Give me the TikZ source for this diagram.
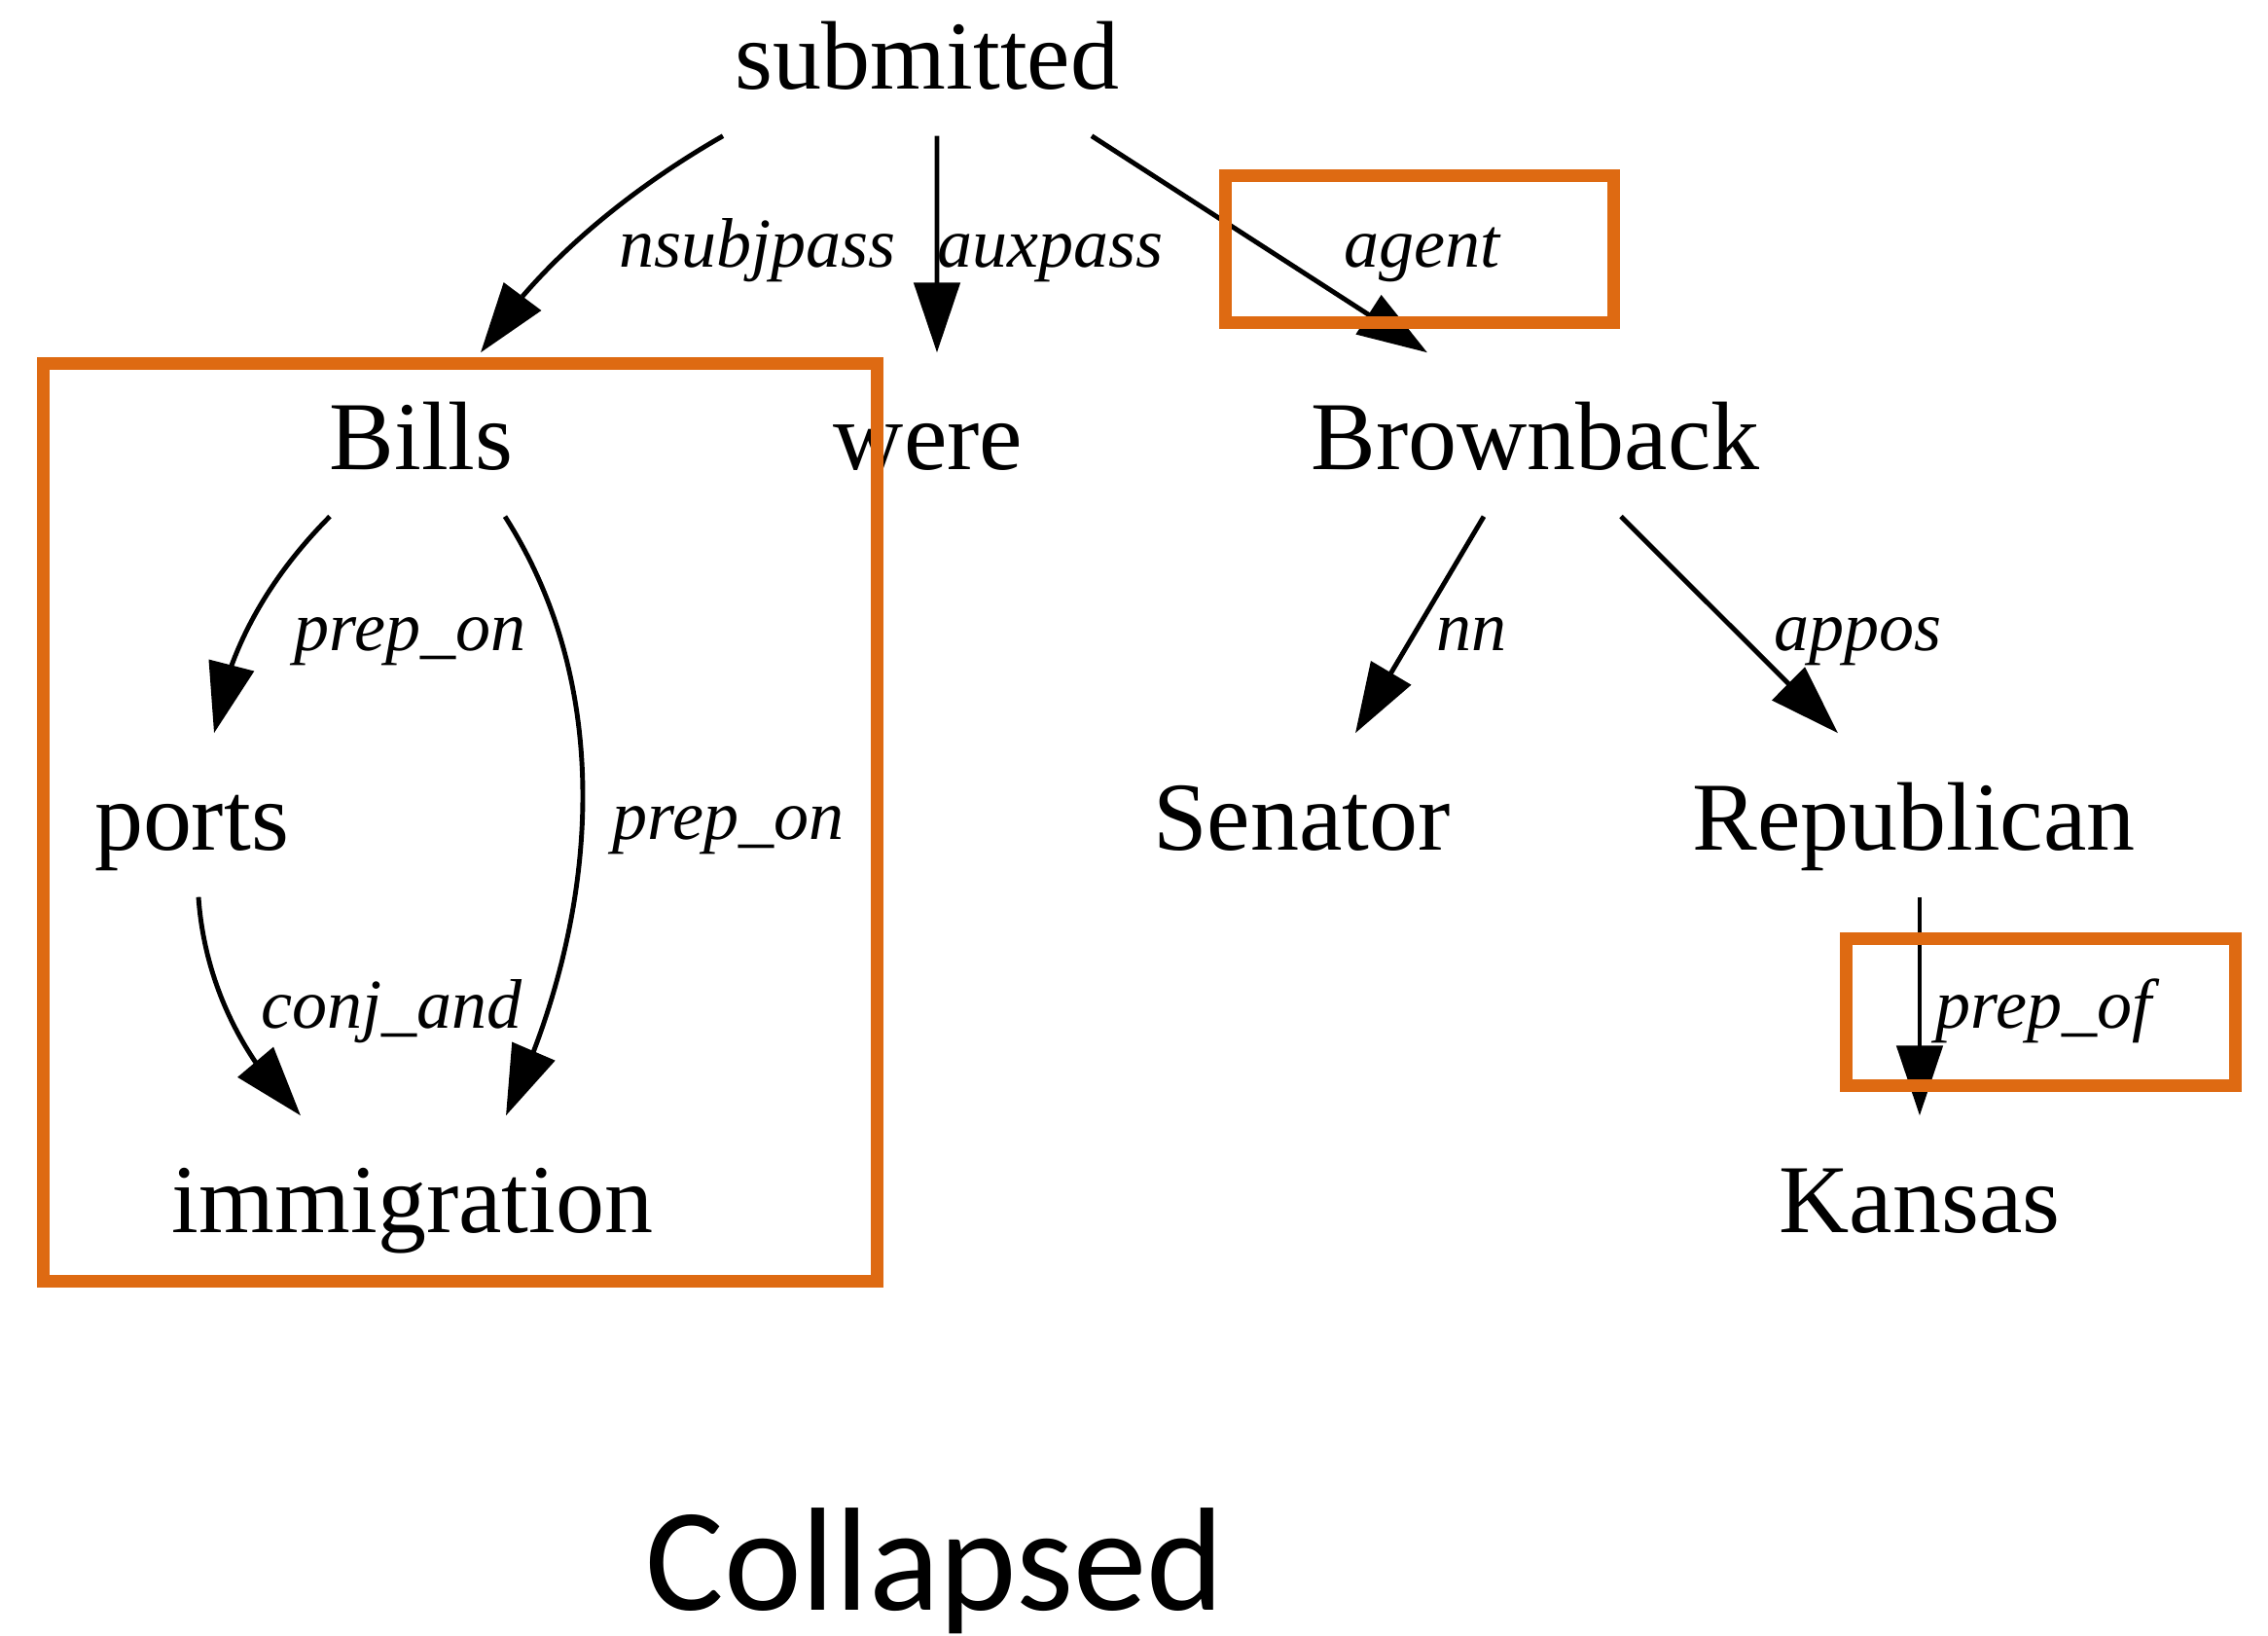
\documentclass[tikz,border=0pt]{standalone}
\usepackage{fontspec}
\setmainfont{Liberation Serif}
\newfontfamily\capfont{Carlito}
\usetikzlibrary{arrows.meta,bending}
\definecolor{hilite}{RGB}{222,106,18}
\tikzset{
  word/.style={font=\fontsize{28.45}{34}\selectfont, inner xsep=0pt, inner ysep=0.4cm,
               text height=0.8cm, text depth=0.07cm, anchor=base},
  rel/.style={font=\fontsize{20.5}{24}\selectfont\itshape, inner sep=0pt, anchor=base west},
  dep/.style={draw=black, line width=1.4pt, -{Triangle[length=0.72cm,width=0.47cm,flex]}},
  hibox/.style={draw=hilite, line width=0.13cm}
}
\begin{document}
\begin{tikzpicture}
  \useasboundingbox[fill=white] (0,0) rectangle (23.31,-16.81);

  % words of the sentence
  \node[word] (submitted)   at (9.53,-0.92)  {submitted};
  \node[word] (Bills)       at (4.33,-4.83)  {Bills};
  \node[word] (were)        at (9.54,-4.83)  {were};
  \node[word] (Brownback)   at (15.78,-4.83) {Brownback};
  \node[word] (ports)       at (1.97,-8.74)  {ports};
  \node[word] (Senator)     at (13.38,-8.74) {Senator};
  \node[word] (Republican)  at (19.67,-8.74) {Republican};
  \node[word] (immigration) at (4.24,-12.67) {immigration};
  \node[word] (Kansas)      at (19.73,-12.67) {Kansas};

  % dependency arcs
  \draw[dep] ([xshift=-2.10cm]submitted.south) .. controls (6.43,-1.97) and (5.49,-2.75) .. ([xshift=0.61cm]Bills.north);
  \draw[dep] ([xshift=0.10cm]submitted.south) -- ([xshift=0.09cm]were.north);
  \draw[dep] ([xshift=1.69cm]submitted.south) -- ([xshift=-1.11cm]Brownback.north);
  \draw[dep] ([xshift=-0.94cm]Bills.south) .. controls (2.89,-5.81) and (2.35,-6.55) .. ([xshift=0.23cm]ports.north);
  \draw[dep] ([xshift=0.86cm]Bills.south) .. controls (6.40,-7.20) and (6.10,-9.60) .. ([xshift=0.96cm]immigration.north);
  \draw[dep] ([xshift=0.07cm]ports.south) .. controls (2.10,-10.10) and (2.50,-10.90) .. ([xshift=-1.15cm]immigration.north);
  \draw[dep] ([xshift=-0.53cm]Brownback.south) -- ([xshift=0.55cm]Senator.north);
  \draw[dep] ([xshift=0.88cm]Brownback.south) -- ([xshift=-0.78cm]Republican.north);
  \draw[dep] ([xshift=0.06cm]Republican.south) -- (Kansas.north);

  % relation labels
  \node[rel] (l-nsubjpass) at (6.36,-2.75)  {nsubjpass};
  \node[rel] (l-auxpass)   at (9.63,-2.75)  {auxpass};
  \node[rel] (l-agent)     at (13.81,-2.75) {agent};
  \node[rel] (l-prepon1)   at (3.02,-6.69)  {prep\_on};
  \node[rel] (l-nn)        at (14.76,-6.69) {nn};
  \node[rel] (l-appos)     at (18.23,-6.69) {appos};
  \node[rel] (l-prepon2)   at (6.29,-8.63)  {prep\_on};
  \node[rel] (l-conjand)   at (2.68,-10.57) {conj\_and};
  \node[rel] (l-prepof)    at (19.89,-10.57) {prep\_of};

  % highlighted regions
  \draw[hibox] (0.44,-3.74) rectangle (9.01,-13.17);
  \draw[hibox] (12.59,-1.81) rectangle (16.58,-3.32);
  \draw[hibox] (18.97,-9.65) rectangle (22.97,-11.16);

  % caption
  \node[font=\capfont\fontsize{43}{50}\selectfont, anchor=base, inner sep=0pt] (caption) at (9.61,-16.55) {Collapsed};
\end{tikzpicture}
\end{document}
